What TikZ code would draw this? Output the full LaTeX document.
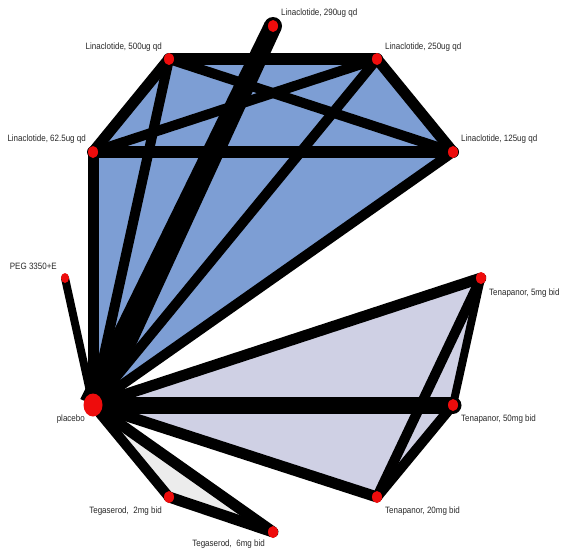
\documentclass[tikz,border=0pt]{standalone}
\usepackage{fontspec}
\setmainfont{Liberation Sans}
\usetikzlibrary{calc,backgrounds,shapes.geometric}
\definecolor{netblue}{RGB}{125,158,212}
\definecolor{netlav}{RGB}{207,208,228}
\definecolor{netgrey}{RGB}{236,236,236}
\definecolor{dotred}{RGB}{238,12,12}
\definecolor{labgrey}{RGB}{40,40,40}
\begin{document}
\begin{tikzpicture}[x=1pt,y=-1pt,
  dot/.style={ellipse,fill=dotred,inner sep=0pt,minimum width=10pt,minimum height=12pt},
  bigdot/.style={dot,minimum width=19pt,minimum height=23pt},
  lab/.style={font=\fontsize{9.2}{10}\selectfont,text=labgrey,inner sep=0pt,xscale=0.87},
  conn/.style={draw=black,line cap=round,line join=round,line width=#1}]
\useasboundingbox (0,0) rectangle (561,554);
% treatment nodes
\node[dot] (L290) at (273,26) {};
\node[dot] (L250) at (377,59) {};
\node[dot] (L125) at (453,152) {};
\node[dot] (T5) at (481,278) {};
\node[dot] (T50) at (453,405) {};
\node[dot] (T20) at (377,497) {};
\node[dot] (Teg6) at (273,532) {};
\node[dot] (Teg2) at (169,497) {};
\node[bigdot] (P) at (93,405) {};
\node[dot,minimum width=8pt,minimum height=10pt] (PEG) at (65,278) {};
\node[dot] (L625) at (93,152) {};
\node[dot] (L500) at (169,59) {};
% labels
\node[lab,anchor=west] (tL290) at ([xshift=8pt,yshift=13pt]L290.center) {Linaclotide, 290ug qd};
\node[lab,anchor=east] (tL500) at ([xshift=-7pt,yshift=12pt]L500.center) {Linaclotide, 500ug qd};
\node[lab,anchor=west] (tL250) at ([xshift=8pt,yshift=12pt]L250.center) {Linaclotide, 250ug qd};
\node[lab,anchor=east] (tL625) at ([xshift=-7pt,yshift=13pt]L625.center) {Linaclotide, 62.5ug qd};
\node[lab,anchor=west] (tL125) at ([xshift=8pt,yshift=13pt]L125.center) {Linaclotide, 125ug qd};
\node[lab,anchor=east] (tPEG) at ([xshift=-8pt,yshift=12pt]PEG.center) {PEG 3350+E};
\node[lab,anchor=west] (tT5) at ([xshift=8pt,yshift=-15pt]T5.center) {Tenapanor, 5mg bid};
\node[lab,anchor=east] (tP) at ([xshift=-8pt,yshift=-14pt]P.center) {placebo};
\node[lab,anchor=west] (tT50) at ([xshift=8pt,yshift=-14pt]T50.center) {Tenapanor, 50mg bid};
\node[lab,anchor=east] (tTeg2) at ([xshift=-7pt,yshift=-14pt]Teg2.center) {Tegaserod,\ \ 2mg bid};
\node[lab,anchor=west] (tT20) at ([xshift=8pt,yshift=-14pt]T20.center) {Tenapanor, 20mg bid};
\node[lab,anchor=east] (tTeg6) at ([xshift=-8pt,yshift=-12pt]Teg6.center) {Tegaserod,\ \ 6mg bid};
\begin{scope}[on background layer]
  % multi-arm polygons
  \fill[netblue] (P.center) -- (L625.center) -- (L500.center) -- (L250.center) -- (L125.center) -- cycle;
  \fill[netlav] (P.center) -- (T5.center) -- (T50.center) -- (T20.center) -- cycle;
  \fill[netgrey] (P.center) -- (Teg2.center) -- (Teg6.center) -- cycle;
  % linaclotide edges
  \draw[conn=12] (L500.center) -- (L250.center);
  \draw[conn=12] (L625.center) -- (L125.center);
  \draw[conn=11] (L500.center) -- (L625.center);
  \draw[conn=11] (L250.center) -- (L125.center);
  \draw[conn=10] (L500.center) -- (L125.center);
  \draw[conn=10] (L250.center) -- (L625.center);
  % placebo edges
  \draw[conn=11] (L625.center) -- (P.center);
  \draw[conn=10] (L500.center) -- (P.center);
  \draw[conn=10] (L250.center) -- (P.center);
  \draw[conn=10] (L125.center) -- (P.center);
  \draw[conn=8] (PEG.center) -- (P.center);
  \draw[conn=11] (T5.center) -- (P.center);
  \draw[conn=17] (T50.center) -- (P.center);
  \draw[conn=11] (T20.center) -- (P.center);
  \draw[conn=10] (Teg2.center) -- (P.center);
  \draw[conn=11] (Teg6.center) -- (P.center);
  % tapered thick edge placebo - linaclotide 290
  \fill[black] ($(L290.center)!9pt!90:(P.center)$) -- ($(P.center)!14pt!-90:(L290.center)$)
     -- ($(P.center)!14pt!90:(L290.center)$) -- ($(L290.center)!9pt!-90:(P.center)$) -- cycle;
  \fill[black] (L290.center) circle (9pt);
  % tenapanor edges
  \draw[conn=8] (T5.center) -- (T50.center);
  \draw[conn=10] (T5.center) -- (T20.center);
  \draw[conn=10] (T50.center) -- (T20.center);
  % tegaserod edge
  \draw[conn=11] (Teg2.center) -- (Teg6.center);
\end{scope}
\end{tikzpicture}
\end{document}
